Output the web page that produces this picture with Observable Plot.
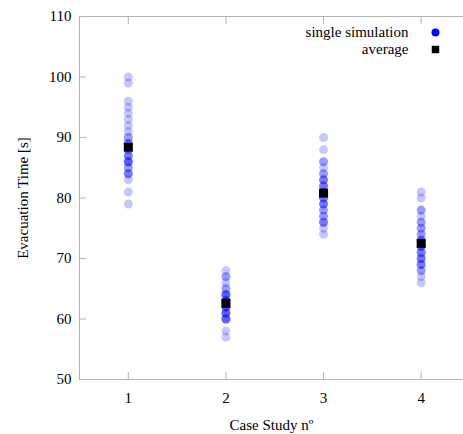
<!DOCTYPE html>
<html><head><meta charset="utf-8">
<script src="https://cdn.jsdelivr.net/npm/d3@7"></script>
<script src="https://cdn.jsdelivr.net/npm/@observablehq/plot@0.6"></script>
<style>
body{margin:0;background:#fff}
svg{display:block}
svg, svg g, svg text{font-family:'Liberation Serif','Times New Roman',serif !important;}
</style>
</head><body><div id="chart"></div>
<script>
const cases = [1, 2, 3, 4];
const case1Times = [100,99,96,95,94,93,92,91,90,90,89,89,89,88,88,87,87,87,86,86,86,86,85,85,84,84,84,83,81,79];
const case2Times = [68,67,67,66,65,65,64,64,64,64,63,63,63,63,62,62,62,62,61,61,61,61,60,60,60,60,58,57];
const case3Times = [90,88,86,86,85,84,84,83,83,83,82,82,82,81,81,80,80,80,79,79,79,78,78,77,77,76,76,76,75,74];
const case4Times = [81,80,78,78,77,76,76,75,75,74,74,73,73,73,72,72,72,71,71,71,70,70,70,69,69,69,68,68,67,66];
const averages = [88.4, 62.6, 80.8, 72.5];
const yTicks = [50, 60, 70, 80, 90, 100, 110];
const legendLabels = ["single simulation", "average"];

const runs = [case1Times, case2Times, case3Times, case4Times]
  .flatMap((arr, i) => arr.map(t => ({cs: cases[i], time: t})));
const avg = cases.map((c, i) => ({cs: c, time: averages[i]}));

const font = "Liberation Serif";
const fs = 15;
const axisColor = "#b3b3b3";

const plot = Plot.plot({
  width: 463, height: 434,
  marginTop: 16, marginBottom: 55, marginLeft: 79, marginRight: 0,
  style: {fontFamily: font, fontSize: fs + "px", color: "#000", background: "#fff"},
  x: {domain: [0.5, 4.5], range: [79, 469.5]},
  y: {domain: [50, 110], range: [379, 16]},
  marks: [
    Plot.ruleY([50, 110], {stroke: axisColor}),
    Plot.ruleX([0.5], {stroke: axisColor}),
    Plot.axisY({ticks: yTicks, tickSize: -7, tickPadding: 15, stroke: axisColor, fill: "#000",
      fontSize: fs, fontFamily: font, tickFormat: d3.format("d"),
      label: "Evacuation Time [s]", labelAnchor: "center", labelArrow: "none", labelOffset: 62}),
    Plot.axisX({ticks: cases, tickSize: -7, tickPadding: 20, stroke: axisColor, fill: "#000",
      fontSize: fs, fontFamily: font, tickFormat: d3.format("d"),
      label: "Case Study nº", labelAnchor: "center", labelArrow: "none", labelOffset: 50}),
    Plot.axisX({anchor: "top", ticks: cases, tickSize: -7, stroke: axisColor, tickFormat: () => "", label: null}),
    Plot.dot(runs, {x: "cs", y: "time", r: 4.5, fill: "blue", fillOpacity: 0.22, stroke: "none"}),
    Plot.dot(avg, {x: "cs", y: "time", r: 5.1, symbol: "square", fill: "#000", stroke: "none"}),
    Plot.text([legendLabels[0]], {text: d => d, frameAnchor: "top-right", dx: -55, dy: 16, textAnchor: "end", lineAnchor: "middle", fill: "#000", fontSize: fs, fontFamily: font}),
    Plot.dot([legendLabels[0]], {frameAnchor: "top-right", dx: -28, dy: 16, r: 4, fill: "blue", stroke: "none"}),
    Plot.text([legendLabels[1]], {text: d => d, frameAnchor: "top-right", dx: -55, dy: 33, textAnchor: "end", lineAnchor: "middle", fill: "#000", fontSize: fs, fontFamily: font}),
    Plot.dot([legendLabels[1]], {frameAnchor: "top-right", dx: -28, dy: 33, r: 4.2, symbol: "square", fill: "#000", stroke: "none"})
  ]
});
document.getElementById("chart").appendChild(plot);
</script>
</body></html>
